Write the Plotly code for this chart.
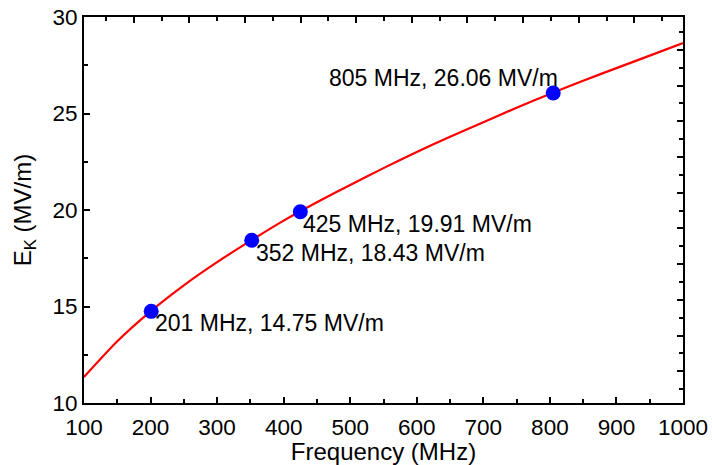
import plotly.graph_objects as go

# Kilpatrick limit curve: surface field E_K vs RF frequency
freq_mhz = [100, 150, 200, 250, 300, 350, 400, 450, 500, 550, 600,
            650, 700, 750, 800, 850, 900, 950, 1000]
ek_mv_m = [11.35, 13.2, 14.75, 16.1, 17.3, 18.4, 19.45, 20.4, 21.3, 22.17, 23.0,
           23.8, 24.55, 25.3, 26.01, 26.7, 27.35, 28.0, 28.65]

# Highlighted operating frequencies
pt_freq = [201, 352, 425, 805]
pt_ek = [14.75, 18.43, 19.91, 26.06]

FONT = "Liberation Sans, Arial, sans-serif"

fig = go.Figure()
fig.add_trace(go.Scatter(x=freq_mhz, y=ek_mv_m, mode="lines",
                         line=dict(color="#ff0000", width=2.2, shape="spline", smoothing=0.6),
                         showlegend=False, hoverinfo="skip"))
fig.add_trace(go.Scatter(x=pt_freq, y=pt_ek, mode="markers",
                         marker=dict(color="#0000ff", size=15),
                         showlegend=False))
# empty trace so the secondary (frame) axes get drawn
fig.add_trace(go.Scatter(x=[], y=[], xaxis="x2", yaxis="y2", showlegend=False))

# label placement per point: (xanchor, xshift, yshift)
placement = [("left", 2, -12), ("left", 2, -13), ("left", 1, -12), ("right", 7, 15)]
for f, e, (xa, xs, ys) in zip(pt_freq, pt_ek, placement):
    fig.add_annotation(x=f, y=e, text=f"{f} MHz, {e:.2f} MV/m", showarrow=False,
                       xanchor=xa, yanchor="middle", xshift=xs, yshift=ys,
                       font=dict(family=FONT, size=23, color="black"))

axis_common = dict(showgrid=False, zeroline=False, showline=True, linecolor="black",
                   linewidth=2, ticks="inside", tickcolor="black", tickwidth=1.5,
                   ticklen=6, automargin=False,
                   tickfont=dict(family=FONT, size=22.5, color="black"))

fig.update_layout(
    width=712, height=465,
    margin=dict(l=84, r=29, t=17, b=62),
    paper_bgcolor="white", plot_bgcolor="white",
    xaxis=dict(range=[100, 1000], tick0=100, dtick=100,
               minor=dict(dtick=50, ticks="inside", ticklen=4, tickwidth=1.5, tickcolor="black"),
               title=dict(text="Frequency (MHz)", font=dict(family=FONT, size=24, color="black"),
                          standoff=2),
               ticklabelstandoff=3,
               **axis_common),
    yaxis=dict(range=[10, 30], tick0=10, dtick=5,
               minor=dict(dtick=2.5, ticks="inside", ticklen=4, tickwidth=1.5, tickcolor="black"),
               title=dict(text="E<sub>K</sub> (MV/m)", font=dict(family=FONT, size=24, color="black"),
                          standoff=14),
               **axis_common),
    xaxis2=dict(overlaying="x", side="top", anchor="y", range=[-0.79, 20.75],
                tick0=1, dtick=2, showticklabels=False,
                minor=dict(dtick=1, ticks="inside", ticklen=4, tickwidth=1.5, tickcolor="black"),
                **axis_common),
    yaxis2=dict(overlaying="y", side="right", anchor="x", range=[-0.78, 20.84],
                tick0=1, dtick=2, showticklabels=False,
                minor=dict(dtick=1, ticks="inside", ticklen=4, tickwidth=1.5, tickcolor="black"),
                **axis_common),
)

fig.write_html("out.html")
